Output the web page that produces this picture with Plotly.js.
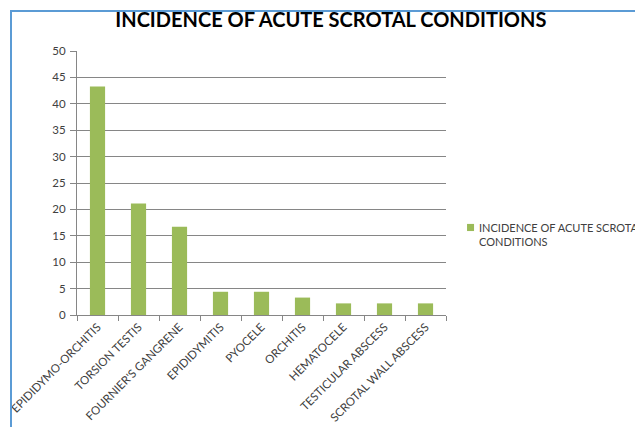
<!DOCTYPE html>
<html>
<head>
<meta charset="utf-8">
<script src="https://cdn.plot.ly/plotly-3.0.1.min.js"></script>
<style>
  html, body { margin: 0; padding: 0; background: #fff; }
  #wrap { position: relative; width: 635px; height: 427px; overflow: hidden; }
  #chart { position: absolute; left: 0; top: 0; width: 635px; height: 427px; }
  #frame { position: absolute; left: 10px; top: 10px; width: 700px; height: 500px;
           border-left: 2px solid #5B9BD5; border-top: 2px solid #5B9BD5; pointer-events: none; }
</style>
</head>
<body>
<div id="wrap">
  <div id="chart"></div>
  <div id="frame"></div>
</div>
<script>
// Acute scrotal conditions and their incidence (%)
const conditions = [
  "EPIDIDYMO-ORCHITIS", "TORSION TESTIS", "FOURNIER'S GANGRENE", "EPIDIDYMITIS",
  "PYOCELE", "ORCHITIS", "HEMATOCELE", "TESTICULAR ABSCESS", "SCROTAL WALL ABSCESS"
];
const incidence = [43.3, 21.1, 16.7, 4.4, 4.4, 3.3, 2.2, 2.2, 2.2];
const yTicks = [0, 5, 10, 15, 20, 25, 30, 35, 40, 45, 50];
const seriesName = "INCIDENCE OF ACUTE SCROTAL<br>CONDITIONS";
const chartTitle = "INCIDENCE OF ACUTE SCROTAL CONDITIONS";
const barColor = "#9BBB59";

const trace = {
  type: "bar",
  x: conditions,
  y: incidence,
  name: seriesName,
  marker: { color: barColor },
  showlegend: false,
  hoverinfo: "x+y"
};

const layout = {
  width: 635,
  height: 427,
  margin: { l: 77, r: 189, t: 51, b: 112, pad: 0 },
  paper_bgcolor: "#ffffff",
  plot_bgcolor: "#ffffff",
  bargap: 0.63,
  showlegend: false,
  font: { family: "Lato, 'Open Sans', sans-serif", color: "#404040", size: 11 },
  title: {
    text: "<b>" + chartTitle + "</b>",
    font: { family: "Lato, 'Open Sans', sans-serif", size: 20, color: "#000000" },
    xref: "container", x: 0.521, xanchor: "center",
    yref: "container", y: 0.952, yanchor: "middle"
  },
  xaxis: {
    type: "category",
    tickangle: -45,
    tickson: "boundaries",
    ticks: "outside",
    ticklen: 5,
    tickcolor: "#868686",
    showline: true,
    linecolor: "#868686",
    linewidth: 1,
    showgrid: false,
    tickfont: { size: 11.5, color: "#404040" },
    fixedrange: true
  },
  yaxis: {
    range: [0, 50],
    tickvals: yTicks,
    ticktext: yTicks.map(String),
    ticks: "outside",
    ticklen: 6,
    tickcolor: "#868686",
    ticklabelstandoff: 2,
    showline: true,
    linecolor: "#868686",
    linewidth: 1,
    showgrid: true,
    gridcolor: "#868686",
    gridwidth: 1,
    zeroline: false,
    tickfont: { size: 11.5, color: "#404040" },
    fixedrange: true
  },
  // series key: small swatch plus two-line label to the right of the plot
  shapes: [{
    type: "rect", xref: "paper", yref: "paper",
    x0: 1.057, x1: 1.076, y0: 0.318, y1: 0.345,
    fillcolor: barColor, line: { width: 0 }
  }],
  annotations: [{
    xref: "paper", yref: "paper",
    x: 1.084, y: 0.364, xanchor: "left", yanchor: "top",
    align: "left", showarrow: false,
    text: seriesName,
    font: { size: 11, color: "#404040" }
  }]
};

Plotly.newPlot("chart", [trace], layout, { displayModeBar: false, staticPlot: true });
</script>
</body>
</html>
